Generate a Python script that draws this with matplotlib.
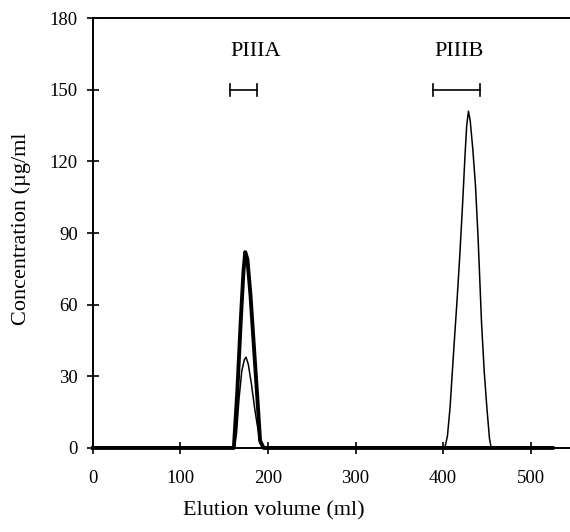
import matplotlib
matplotlib.use("Agg")
import matplotlib.pyplot as plt

# ----- données -----
volume_epais = [0, 100, 155, 161, 165, 169, 172, 174, 176.5, 180, 184, 188, 191, 195, 300, 400, 525]
conc_epais = [0, 0, 0, 0, 24, 54, 74, 82, 79, 64, 42, 20, 3, 0, 0, 0, 0]

volume_fin = [161, 164, 167, 170, 173, 175, 177.5, 181, 185, 188, 191, 195,
              300, 400, 402, 405, 408, 412, 416, 419, 422, 425, 427, 429, 431, 434,
              437, 440, 444, 447, 450, 453, 455, 525]
conc_fin = [0, 6, 21, 32, 37, 38, 35, 27, 16, 9, 2, 0,
            0, 0, 0, 5, 17, 40, 62, 80, 100, 122, 135, 141, 137, 125,
            110, 88, 52, 32, 17, 4, 0, 0]

pics = ["PIIIA", "PIIIB"]
pos_etiquettes = [186, 418]
fractions = [(157, 187), (389, 442)]

x_ticks = [0, 100, 200, 300, 400, 500]
y_ticks = [0, 30, 60, 90, 120, 150, 180]

plt.rcParams['font.family'] = ['Liberation Serif', 'DejaVu Serif']

fig = plt.figure(figsize=(5.70, 5.32), dpi=100)
ax = fig.add_axes([0.163, 0.158, 0.837, 0.808])

ax.plot(volume_epais, conc_epais, color="black", lw=2.8, solid_joinstyle="round", clip_on=False)
ax.plot(volume_fin, conc_fin, color="black", lw=1.1, clip_on=False)

# barres des fractions collectées + noms des pics
for nom, xe, (a, b) in zip(pics, pos_etiquettes, fractions):
    ax.text(xe, 166, nom, ha="center", va="center", fontsize=16)
    ax.plot([a, b], [150, 150], color="black", lw=1.2)
    ax.plot([a, a], [147.5, 152.5], color="black", lw=1.2)
    ax.plot([b, b], [147.5, 152.5], color="black", lw=1.2)

ax.set_xlim(0, 545)
ax.set_ylim(0, 180)
ax.set_xticks(x_ticks)
ax.set_yticks(y_ticks)
ax.tick_params(direction="inout", length=8, width=1.2, labelsize=13.5)
ax.tick_params(axis="x", pad=12)
ax.tick_params(axis="y", pad=7)

ax.spines["right"].set_visible(False)
for s in ["left", "bottom", "top"]:
    ax.spines[s].set_linewidth(1.4)

ax.set_xlabel("Elution volume (ml)", fontsize=16)
ax.xaxis.set_label_coords(0.38, -0.125)
ax.set_ylabel("Concentration (µg/ml", fontsize=16)
ax.yaxis.set_label_coords(-0.13, 0.51)

fig.savefig("out.png", dpi=100)
